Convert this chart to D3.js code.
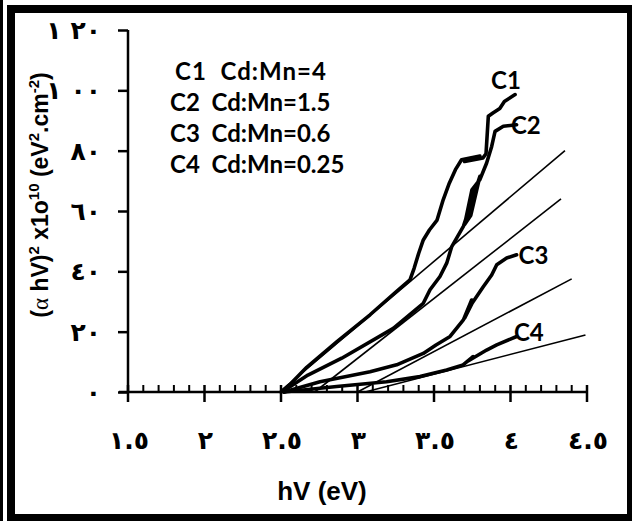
<!DOCTYPE html>
<html>
<head>
<meta charset="utf-8">
<script src="https://cdn.jsdelivr.net/npm/d3@7"></script>
<style>
  body { margin: 0; background: #fff; }
  svg { display: block; }
</style>
</head>
<body>
<script>
// tick values and their printed (Arabic-Indic) labels
const xTicks = [1.5, 2, 2.5, 3, 3.5, 4, 4.5]
const xTickLabels = ['١.٥', '٢', '٢.٥', '٣', '٣.٥', '٤', '٤.٥']
const yTicks = [0, 20, 40, 60, 80, 100, 120]
const yTickLabels = ['٠', '٢٠', '٤٠', '٦٠', '٨٠', '١٠٠', '١٢٠']

const legendLines = ['C1  Cd:Mn=4', 'C2  Cd:Mn=1.5', 'C3  Cd:Mn=0.6', 'C4  Cd:Mn=0.25']

// measured curves: [hv (eV), (alpha hv)^2 x1e10]
const c1 = [[2.50, 0], [2.56, 2.6], [2.668, 8.2], [2.864, 16.6], [3.082, 25.6], [3.256, 33.4], [3.343, 37.2],
  [3.37, 41], [3.40, 46], [3.43, 50.4], [3.47, 53.7], [3.52, 57], [3.56, 63.7], [3.60, 69.2], [3.64, 73.7],
  [3.68, 77], [3.80, 78.2], [3.70, 76.4], [3.82, 77.6], [3.84, 79], [3.855, 91.4], [3.885, 92.5], [3.93, 94],
  [3.96, 96.3], [4.03, 98.6]]
const c2 = [[2.52, 0], [2.546, 1.3], [2.676, 5.6], [2.897, 11.2], [3.234, 21.1], [3.43, 29.4], [3.474, 33.9],
  [3.539, 38.3], [3.583, 42.7], [3.616, 48.2], [3.692, 54.9], [3.735, 61.5], [3.80, 71.5], [3.74, 58.5],
  [3.70, 55.5], [3.748, 67], [3.80, 70.4], [3.844, 75.9], [3.877, 81.4], [3.899, 86.4], [3.953, 88.1], [4.04, 88.6]]
const c3 = [[2.52, 0], [2.755, 3.4], [3.082, 6.7], [3.256, 9.0], [3.43, 12.8], [3.513, 15.6], [3.605, 18.4],
  [3.692, 23.9], [3.746, 30.5], [3.70, 24.5], [3.75, 29.5], [3.822, 34.9], [3.877, 38.8], [3.91, 42.2],
  [3.975, 44.4], [4.04, 45.5]]
const c4 = [[2.52, 0], [2.864, 1.8], [3.19, 3.4], [3.408, 5.1], [3.583, 7.3], [3.69, 9], [3.755, 11.7],
  [3.72, 10.2], [3.80, 12.6], [3.844, 13.9], [3.91, 15.6], [4.04, 18.4]]

// straight-line fits (start, end)
const fits = [
  [[2.49, 0], [4.356, 80]],
  [[2.72, 0], [4.33, 64]],
  [[3.00, 0], [4.40, 37.5]],
  [[3.05, 0], [4.49, 18.9]]
]

const curveLabels = [
  { name: 'C1', hv: 3.97, v: 100.5 },
  { name: 'C2', hv: 4.10, v: 85.5 },
  { name: 'C3', hv: 4.15, v: 42.5 },
  { name: 'C4', hv: 4.12, v: 17 }
]

const W = 632, H = 521

const svg = d3.select('body').append('svg')
  .attr('width', W).attr('height', H)

// frame
svg.append('rect').attr('x', 0).attr('y', 0).attr('width', 3).attr('height', H).attr('fill', '#000')
svg.append('rect').attr('x', 11).attr('y', 9).attr('width', 620).attr('height', 509)
  .attr('fill', 'none').attr('stroke', '#000').attr('stroke-width', 8)

let x = d3.scaleLinear().domain([1.5, 4.5]).range([128, 587])
let y = d3.scaleLinear().domain([0, 120]).range([392, 30])

// y axis
let yAxis = svg.append('g').attr('transform', `translate(${x(1.5)},0)`)
  .call(d3.axisLeft(y).tickValues(yTicks).tickSize(10).tickFormat(() => ''))
yAxis.select('.domain').attr('d', `M0,${y(120)}V${y(0)}`).attr('stroke-width', 2.5)
yAxis.selectAll('.tick line').attr('stroke-width', 2.5)

// x axis: major ticks crossing, minor ticks inside
let xMinor = d3.range(15, 46).map(d => d / 10).filter(d => !xTicks.some(t => Math.abs(t - d) < 1e-6))
let xAxis = svg.append('g').attr('transform', `translate(0,${y(0)})`)
xAxis.append('line').attr('x1', x(1.5) - 9).attr('x2', x(4.5)).attr('stroke', '#000').attr('stroke-width', 2.5)
xAxis.selectAll('.major').data(xTicks).enter().append('line')
  .attr('x1', d => x(d)).attr('x2', d => x(d)).attr('y1', -7).attr('y2', 10)
  .attr('stroke', '#000').attr('stroke-width', 2.5)
xAxis.selectAll('.minor').data(xMinor).enter().append('line')
  .attr('x1', d => x(d)).attr('x2', d => x(d)).attr('y1', -7).attr('y2', 0)
  .attr('stroke', '#000').attr('stroke-width', 2)

// tick labels (extra gap after "١", as in the original)
let ytl = svg.append('g').selectAll('text').data(yTicks).enter().append('text')
  .attr('x', 101).attr('y', d => y(d) + 9)
  .attr('text-anchor', 'end')
  .attr('font-family', 'DejaVu Sans').attr('font-weight', 'bold').attr('font-size', 25)
  .attr('letter-spacing', 9)
  .attr('direction', 'ltr')
ytl.each(function (d, i) {
  let t = d3.select(this)
  let chars = Array.from(yTickLabels[i])
  chars.forEach((ch, k) => {
    t.append('tspan').attr('dx', k > 0 && chars[k - 1] === '١' ? 9 : 0).text(ch)
  })
})

svg.append('g').selectAll('text').data(xTicks).enter().append('text')
  .attr('x', d => x(d) + 1).attr('y', 449)
  .attr('text-anchor', 'middle')
  .attr('font-family', 'DejaVu Sans').attr('font-weight', 'bold').attr('font-size', 25)
  .attr('letter-spacing', 3)
  .attr('direction', 'ltr')
  .text((d, i) => xTickLabels[i])

// axis titles
svg.append('text').attr('x', 322).attr('y', 500).attr('text-anchor', 'middle')
  .attr('font-family', 'Liberation Sans, Arial').attr('font-weight', 'bold').attr('font-size', 26)
  .text('hV (eV)')

let yt = svg.append('text').attr('transform', 'translate(48,195) rotate(-90)')
  .attr('text-anchor', 'middle')
  .attr('font-family', 'Liberation Sans, Arial').attr('font-weight', 'bold').attr('font-size', 23)
yt.append('tspan').text('(')
yt.append('tspan').attr('font-family', 'Liberation Serif, Times New Roman').attr('font-weight', 'normal').text('α')
yt.append('tspan').text(' hV)')
yt.append('tspan').attr('font-size', 15).attr('dy', -9).text('2')
yt.append('tspan').attr('dy', 9).text(' x1o')
yt.append('tspan').attr('font-size', 15).attr('dy', -9).text('10')
yt.append('tspan').attr('dy', 9).text(' (eV')
yt.append('tspan').attr('font-size', 15).attr('dy', -9).text('2')
yt.append('tspan').attr('dy', 9).text('.cm')
yt.append('tspan').attr('font-size', 15).attr('dy', -9).text('-2')
yt.append('tspan').attr('dy', 9).text(')')

// legend text
svg.append('g').selectAll('text').data(legendLines).enter().append('text')
  .attr('x', (d, i) => i === 0 ? 175 : 170)
  .attr('y', (d, i) => 80 + i * 31)
  .attr('font-family', 'Lato').attr('font-weight', 'bold').attr('font-size', 24)
  .attr('letter-spacing', (d, i) => i === 0 ? 1 : 0)
  .attr('xml:space', 'preserve')
  .style('white-space', 'pre')
  .text(d => d)

// fit lines
let line = d3.line().x(d => x(d[0])).y(d => y(d[1]))
svg.append('g').selectAll('path').data(fits).enter().append('path')
  .attr('d', line).attr('fill', 'none').attr('stroke', '#000').attr('stroke-width', 1.6)

// measured curves
svg.append('g').selectAll('path').data([c4, c3, c2, c1]).enter().append('path')
  .attr('d', line).attr('fill', 'none').attr('stroke', '#000').attr('stroke-width', 3.6)
  .attr('stroke-linejoin', 'round').attr('stroke-linecap', 'round')

svg.append('g').selectAll('text').data(curveLabels).enter().append('text')
  .attr('x', d => x(d.hv)).attr('y', d => y(d.v))
  .attr('text-anchor', 'middle')
  .attr('font-family', 'Lato').attr('font-weight', 'bold').attr('font-size', 24)
  .text(d => d.name)
</script>
</body>
</html>
